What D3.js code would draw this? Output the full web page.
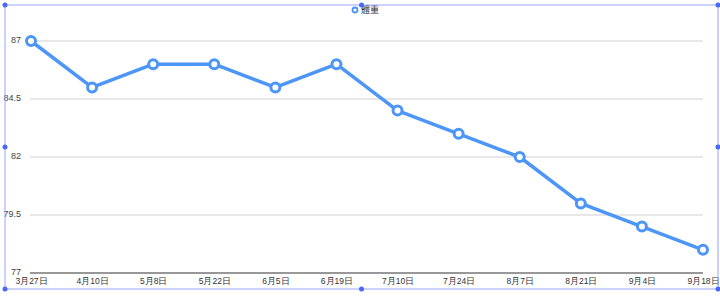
<!DOCTYPE html>
<html><head><meta charset="utf-8">
<script src="https://cdn.jsdelivr.net/npm/d3@7"></script>
<style>body{margin:0;background:#fff;}svg{display:block;font-family:"Noto Sans CJK TC","Noto Sans",sans-serif;}</style>
</head><body>
<svg id="c" width="720" height="305"></svg>
<script>
const categories = ["3月27日","4月10日","5月8日","5月22日","6月5日","6月19日","7月10日","7月24日","8月7日","8月21日","9月4日","9月18日"];
const weights = [87,85,86,86,85,86,84,83,82,80,79,78];
const yTicks = [77,79.5,82,84.5,87];
const seriesName = "體重";

(function(){
const svg = d3.select("#c");
const pl = 31, pr = 703, pt = 41, pb = 273;
const x = d3.scalePoint().domain(categories).range([pl, pr]).padding(0);
const y = d3.scaleLinear().domain([77,87]).range([pb, pt]);
const color = "#4d96f7";

// gridlines
svg.append("g").selectAll("line").data(yTicks).join("line")
  .attr("x1", pl-1).attr("x2", pr).attr("y1", d=>y(d)).attr("y2", d=>y(d))
  .attr("stroke", d=>d===77?"#333":"#cfcfcf").attr("stroke-width", d=>d===77?1.2:1);

// y axis labels
const yAxis = d3.axisLeft(y).tickValues(yTicks).tickSize(0).tickPadding(0).tickFormat(d=>String(d));
const ya = svg.append("g").attr("transform", `translate(${pl-10},-1)`).call(yAxis);
ya.select(".domain").remove();
ya.selectAll("text").attr("font-size", 9).attr("fill", "#444").attr("font-family", "Liberation Sans, Arial, sans-serif");

// x axis labels
const xAxis = d3.axisBottom(x).tickSize(0).tickPadding(0);
const xa = svg.append("g").attr("transform", `translate(0,${pb+5})`).call(xAxis);
xa.select(".domain").remove();
xa.selectAll("text").attr("font-size", 8.5).attr("fill", "#333");

// line
const line = d3.line().x((d,i)=>x(categories[i])).y(d=>y(d));
svg.append("path").datum(weights).attr("d", line).attr("fill","none")
  .attr("stroke", color).attr("stroke-width", 3.5).attr("stroke-linejoin","round");
svg.append("g").selectAll("circle").data(weights).join("circle")
  .attr("cx",(d,i)=>x(categories[i])).attr("cy",d=>y(d)).attr("r",4.5)
  .attr("fill","#fff").attr("stroke",color).attr("stroke-width",3);

// legend
const lg = svg.append("g").attr("transform","translate(355,10)");
lg.append("circle").attr("r",2.5).attr("fill","#fff").attr("stroke",color).attr("stroke-width",1.8);
lg.append("text").attr("x",6).attr("y",3).attr("font-size",9).attr("fill","#333").text(seriesName);

// selection frame (editor overlay)
const fx0=5, fx1=718, fy0=5, fy1=289;
svg.append("rect").attr("x",fx0).attr("y",fy0).attr("width",fx1-fx0).attr("height",fy1-fy0)
  .attr("fill","none").attr("stroke","#9aa3ff").attr("stroke-width",1);
const handles = [[fx0,fy0],[(fx0+fx1)/2,fy0],[fx1,fy0],[fx0,(fy0+fy1)/2],[fx1,(fy0+fy1)/2],[fx0,fy1],[(fx0+fx1)/2,fy1],[fx1,fy1]];
svg.append("g").selectAll("circle").data(handles).join("circle")
  .attr("cx",d=>d[0]).attr("cy",d=>d[1]).attr("r",2.5).attr("fill","#4a68f5");
})();
</script>
</body></html>
